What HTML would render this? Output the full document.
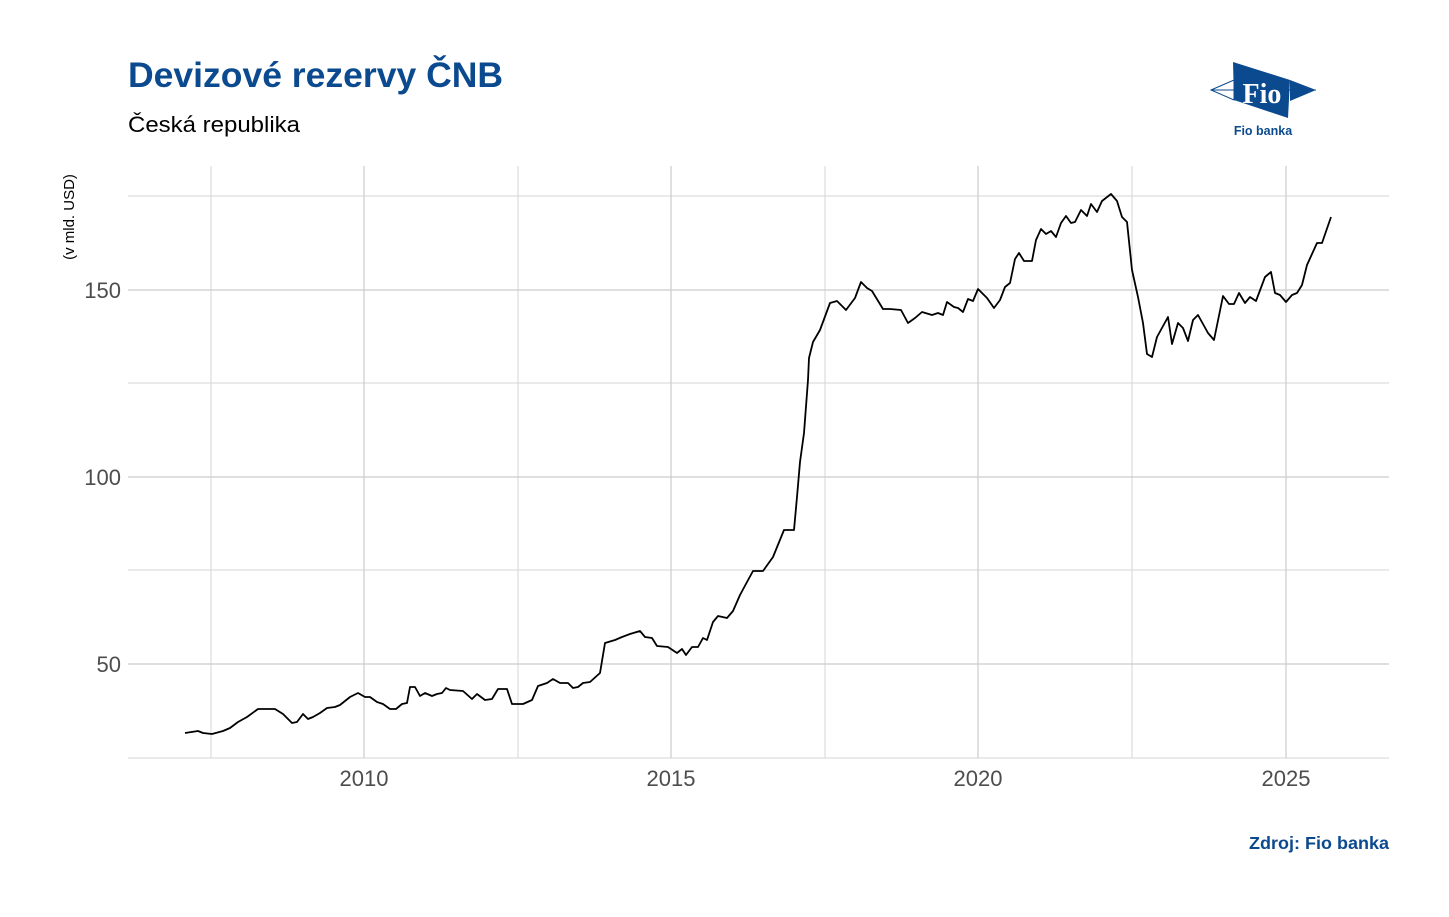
<!DOCTYPE html>
<html><head><meta charset="utf-8"><style>
body{margin:0;background:#fff;width:1449px;height:912px;overflow:hidden;font-family:"Liberation Sans",sans-serif}
</style></head><body>
<svg width="1449" height="912" xmlns="http://www.w3.org/2000/svg" font-family="Liberation Sans, sans-serif">
<rect width="1449" height="912" fill="#fff"/>
<text x="128" y="87" font-size="35.5" font-weight="bold" fill="#0b4a8e" textLength="375" lengthAdjust="spacingAndGlyphs">Devizové rezervy ČNB</text>
<text x="128" y="132" font-size="22" fill="#000" textLength="172" lengthAdjust="spacingAndGlyphs">Česká republika</text>
<g stroke="#d6d6d6" stroke-width="1">
<line x1="128" x2="1389" y1="196" y2="196"/><line x1="128" x2="1389" y1="383" y2="383"/><line x1="128" x2="1389" y1="570" y2="570"/><line x1="128" x2="1389" y1="758" y2="758"/>
<line x1="211" x2="211" y1="166" y2="758"/><line x1="518" x2="518" y1="166" y2="758"/><line x1="825" x2="825" y1="166" y2="758"/><line x1="1132" x2="1132" y1="166" y2="758"/>
</g>
<g stroke="#cccccc" stroke-width="1.2">
<line x1="128" x2="1389" y1="290" y2="290"/><line x1="128" x2="1389" y1="477" y2="477"/><line x1="128" x2="1389" y1="664" y2="664"/>
<line x1="364" x2="364" y1="166" y2="758"/><line x1="671" x2="671" y1="166" y2="758"/><line x1="978" x2="978" y1="166" y2="758"/><line x1="1286" x2="1286" y1="166" y2="758"/>
</g>
<g font-size="22" fill="#4d4d4d" text-anchor="end">
<text x="121" y="298">150</text><text x="121" y="485">100</text><text x="121" y="672">50</text>
</g>
<g font-size="22" fill="#4d4d4d" text-anchor="middle">
<text x="364" y="786">2010</text><text x="671" y="786">2015</text><text x="978" y="786">2020</text><text x="1286" y="786">2025</text>
</g>
<text transform="translate(74,217) rotate(-90)" font-size="15" text-anchor="middle" fill="#000">(v mld. USD)</text>
<polyline fill="none" stroke="#000" stroke-width="1.8" stroke-linejoin="round" points="185,733 198,731 203,733 212,734 223,731 230,728 238,722 247,717 258,709 267,709 275,709 283,714 292,723 297,722 303,714 308,719 313,717 320,713 327,708 335,707 340,705 350,697 358,693 365,697 370,697 377,702 383,704 390,709 396,709 402,704 407,703 410,687 415,687 420,696 425,693 432,696 437,694 442,693 446,688 450,690 463,691 472,699 477,694 485,700 492,699 498,689 507,689 512,704 523,704 532,700 538,686 547,683 553,679 560,683 568,683 573,688 578,687 583,683 590,682 600,673 605,643 615,640 622,637 630,634 640,631 645,637 652,638 657,646 668,647 677,653 682,649 686,655 692,647 698,647 703,638 707,640 713,622 718,616 727,618 733,611 740,595 747,582 753,571 763,571 773,557 784,530 794,530 797,497 800,462 804,433 808,380 809,358 813,342 820,330 830,303 837,301 846,310 855,298 861,282 867,288 872,291 883,309 890,309 901,310 908,323 915,318 922,312 932,315 938,313 943,315 947,302 954,307 958,308 963,312 968,299 973,301 978,289 987,298 994,308 1000,300 1005,287 1010,283 1015,259 1019,253 1024,261 1032,261 1036,240 1041,229 1046,234 1051,231 1056,237 1061,223 1066,216 1071,223 1075,222 1081,210 1087,216 1091,204 1097,212 1102,201 1111,194 1117,201 1122,217 1127,222 1132,270 1138,297 1143,323 1147,354 1152,357 1157,337 1168,317 1172,344 1178,323 1183,328 1188,341 1193,320 1198,315 1208,333 1214,340 1223,296 1229,304 1234,304 1239,293 1245,303 1250,297 1256,301 1265,277 1271,272 1275,293 1280,295 1286,302 1292,295 1297,293 1302,285 1307,265 1317,243 1322,243 1331,217"/>
<text x="1389" y="849" font-size="17.5" font-weight="bold" fill="#0b4a8e" text-anchor="end" textLength="140" lengthAdjust="spacingAndGlyphs">Zdroj: Fio banka</text>
<g>
<polygon points="1233,62 1290,80 1288,118 1234,100" fill="#0b4a8e"/>
<polygon points="1211,90 1234,80 1234,100" fill="#fff" stroke="#0b4a8e" stroke-width="1"/>
<polygon points="1290,80 1316,90 1290,101" fill="#0b4a8e"/>
<line x1="1211" y1="90" x2="1316" y2="90" stroke="#0b4a8e" stroke-width="1"/>
<text x="1262" y="103" font-family="Liberation Serif, serif" font-size="28" font-weight="bold" fill="#fff" text-anchor="middle">Fio</text>
<text x="1263" y="135" font-size="12.5" font-weight="bold" fill="#0b4a8e" text-anchor="middle">Fio banka</text>
</g>
</svg>
</body></html>
